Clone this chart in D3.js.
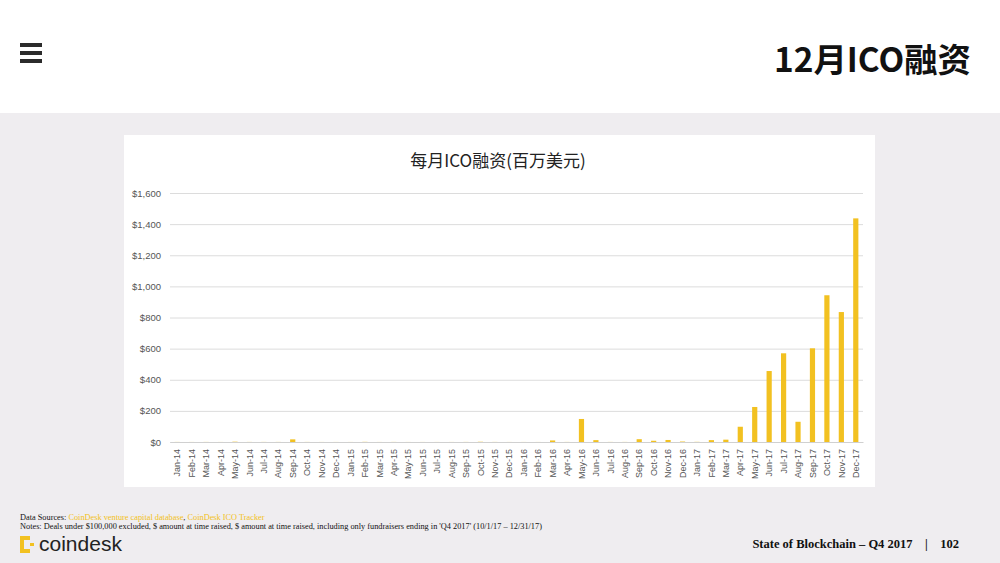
<!DOCTYPE html>
<html><head><meta charset="utf-8">
<script src="https://cdn.jsdelivr.net/npm/d3@7"></script>
<style>
body{margin:0;background:#fff;}
svg{display:block;}
</style></head>
<body>
<svg id="c" width="1000" height="563"></svg>
<script>
const months = ["Jan-14","Feb-14","Mar-14","Apr-14","May-14","Jun-14","Jul-14","Aug-14","Sep-14","Oct-14","Nov-14","Dec-14",
"Jan-15","Feb-15","Mar-15","Apr-15","May-15","Jun-15","Jul-15","Aug-15","Sep-15","Oct-15","Nov-15","Dec-15",
"Jan-16","Feb-16","Mar-16","Apr-16","May-16","Jun-16","Jul-16","Aug-16","Sep-16","Oct-16","Nov-16","Dec-16",
"Jan-17","Feb-17","Mar-17","Apr-17","May-17","Jun-17","Jul-17","Aug-17","Sep-17","Oct-17","Nov-17","Dec-17"];
const icoFunding = [0.5,0.3,0.5,0.3,2,0.5,0.5,0.5,17,0.5,0.3,0.3,
0.3,1,0.3,0.5,0.3,0.3,0.3,0.3,0.5,1.5,0.5,0.3,
0.3,0.3,10,0.5,148,12,0.5,0.5,18,8,13,3,
1,12,15,98,225,456,570,130,602,943,835,1437];
const yTicks = [0,200,400,600,800,1000,1200,1400,1600];
const chartTitle = "每月ICO融资(百万美元)";
const pageTitle = "12月ICO融资";

const svg = d3.select("#c");
// backgrounds
svg.append("rect").attr("x",0).attr("y",0).attr("width",1000).attr("height",563).attr("fill","#efedf0");
svg.append("rect").attr("x",0).attr("y",0).attr("width",1000).attr("height",113).attr("fill","#ffffff");
// hamburger
[46,54,62].forEach(y=>svg.append("rect").attr("x",20).attr("y",y-3).attr("width",22).attr("height",4).attr("fill","#2b2b2b"));
svg.append("text").attr("x",971).attr("y",72).attr("text-anchor","end")
  .attr("font-family","'Noto Sans CJK SC','Liberation Sans',sans-serif").attr("font-weight","bold")
  .attr("font-size",33).attr("textLength",197).attr("lengthAdjust","spacingAndGlyphs")
  .attr("fill","#111").text(pageTitle);

// card
svg.append("rect").attr("x",124).attr("y",135).attr("width",751).attr("height",352).attr("fill","#fff");

const x = d3.scaleBand().domain(months).range([170,863]).paddingInner(0.64).paddingOuter(0.32);
const y = d3.scaleLinear().domain([0,1600]).range([442,193]);

svg.append("text").attr("x",498).attr("y",167).attr("text-anchor","middle")
  .attr("font-family","'Noto Sans CJK SC','Liberation Sans',sans-serif").attr("font-size",17).attr("fill","#222").text(chartTitle);

const yAxis = svg.append("g").attr("transform","translate(170,0)")
  .call(d3.axisLeft(y).tickValues(yTicks).tickSize(-693).tickFormat(d=>"$"+d3.format(",")(d)));
yAxis.select(".domain").remove();
yAxis.selectAll(".tick line").attr("stroke","#dcdcdc");
yAxis.selectAll(".tick text").attr("x",-9).attr("fill","#555").attr("font-size",9.5).attr("font-family","'Liberation Sans',Arial,sans-serif");

svg.selectAll("rect.bar").data(icoFunding).enter().append("rect").attr("class","bar")
  .attr("x",(d,i)=>x(months[i])).attr("width",x.bandwidth())
  .attr("y",d=>y(d)).attr("height",d=>y(0)-y(d)).attr("fill","#f2c121");

const xAxis = svg.append("g").attr("transform","translate(0,442)")
  .call(d3.axisBottom(x).tickSize(0));
xAxis.select(".domain").attr("stroke","#d0d0d0");
xAxis.selectAll(".tick text").attr("transform","rotate(-90)").attr("text-anchor","end")
  .attr("x",-7).attr("y",0).attr("dy","0.35em").attr("fill","#555").attr("font-size",9)
  .attr("font-family","'Liberation Sans',Arial,sans-serif");

// footer
const serif = "'Liberation Serif','Times New Roman',serif";
const fs = svg.append("text").attr("x",20).attr("y",520).attr("font-family",serif).attr("font-size",8.3).attr("fill","#111");
fs.append("tspan").text("Data Sources: ");
fs.append("tspan").attr("fill","#f2c121").text("CoinDesk venture capital database");
fs.append("tspan").text(", ");
fs.append("tspan").attr("fill","#f2c121").text("CoinDesk ICO Tracker");
svg.append("text").attr("x",20).attr("y",529).attr("font-family",serif).attr("font-size",8.3).attr("fill","#111")
  .text("Notes: Deals under $100,000 excluded, $ amount at time raised, $ amount at time raised, including only fundraisers ending in 'Q4 2017' (10/1/17 – 12/31/17)");
// coindesk logo
const lg = svg.append("g");
lg.append("rect").attr("x",20).attr("y",536).attr("width",4).attr("height",17).attr("fill","#f2c121");
lg.append("rect").attr("x",20).attr("y",536).attr("width",10).attr("height",4).attr("fill","#f2c121");
lg.append("rect").attr("x",20).attr("y",549).attr("width",10).attr("height",4).attr("fill","#f2c121");
lg.append("rect").attr("x",30).attr("y",543).attr("width",4).attr("height",3).attr("fill","#f2c121");
svg.append("text").attr("x",39).attr("y",551).attr("font-family","'Liberation Sans',Arial,sans-serif").attr("font-size",21).attr("fill","#222").text("coindesk");
svg.append("text").attr("x",959).attr("y",548).attr("text-anchor","end").attr("font-family",serif).attr("font-weight","bold")
  .attr("font-size",12.5).attr("fill","#111").attr("xml:space","preserve").text("State of Blockchain – Q4 2017    |    102");
</script>
</body></html>
